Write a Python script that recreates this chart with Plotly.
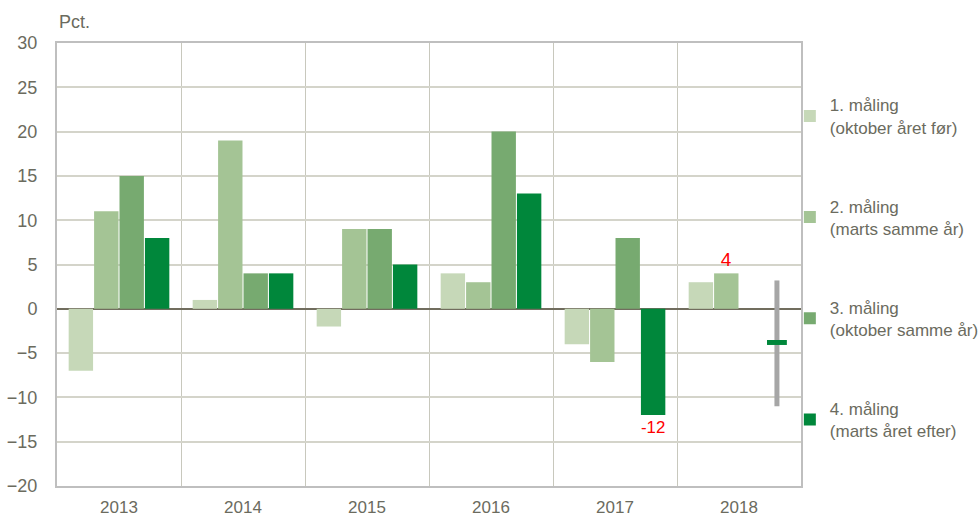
import plotly.graph_objects as go

years = ["2013", "2014", "2015", "2016", "2017", "2018"]
names = ["1. måling<br>(oktober året før)", "2. måling<br>(marts samme år)",
         "3. måling<br>(oktober samme år)", "4. måling<br>(marts året efter)"]
m1 = [-7, 1, -2, 4, -4, 3]
m2 = [11, 19, 9, 3, -6, 4]
m3 = [15, 4, 9, 20, 8, None]
m4 = [8, 4, 5, 13, -12, None]
colors = ["#c6d8b8", "#a4c495", "#77aa70", "#00873b"]
label_m2 = ["", "", "", "", "", "4"]
label_m4 = ["", "", "", "", "-12", ""]
# 2018 projection for 4th measurement: interval and central estimate
proj_low, proj_high, proj_mid = -11, 3.2, -3.8

xs = list(range(len(years)))
fig = go.Figure()
series = [m1, m2, m3, m4]
texts = [None, label_m2, None, label_m4]
for i, (vals, nm, col) in enumerate(zip(series, names, colors)):
    fig.add_trace(go.Bar(
        x=xs, y=vals, name=nm, marker=dict(color=col, line=dict(width=0)),
        legendgroup=str(i),
        text=texts[i], textposition="outside" if texts[i] else None,
        textfont=dict(color="#ff0000", size=19, family="Liberation Sans"),
        cliponaxis=False,
    ))

slot_off = 0.306
px = 5 + slot_off
fig.add_trace(go.Scatter(x=[px, px], y=[proj_low, proj_high], mode="lines",
                         line=dict(color="#a6a6a6", width=5), showlegend=False,
                         hoverinfo="skip"))
fig.add_trace(go.Scatter(x=[px - 0.08, px + 0.08], y=[proj_mid, proj_mid], mode="lines",
                         line=dict(color="#00873b", width=5), showlegend=False,
                         hoverinfo="skip"))

tickc = "#6b6b5e"
fig.update_layout(
    width=979, height=520,
    margin=dict(l=57, r=178, t=43, b=34, autoexpand=False),
    plot_bgcolor="white", paper_bgcolor="white",
    barmode="group", bargap=0.18, bargroupgap=0.04,
    font=dict(family="Liberation Sans", color=tickc, size=17),
    showlegend=True,
    legend=dict(x=0.985, y=0.90, xanchor="left", yanchor="top",
                font=dict(size=17, color=tickc), tracegroupgap=54,
                itemwidth=30, bgcolor="rgba(0,0,0,0)"),
    xaxis=dict(range=[-0.5, 5.5], tickmode="array", tickvals=xs, ticktext=years,
               showgrid=False, zeroline=False, showline=True, linecolor="#bfbfbf",
               linewidth=2, mirror=True, ticks="", ticklabelstandoff=5,
               tickfont=dict(size=17, color=tickc),
               minor=dict(tickmode="array", tickvals=[0.5, 1.5, 2.5, 3.5, 4.5],
                          showgrid=True, gridcolor="#c8c8bd", gridwidth=1)),
    yaxis=dict(range=[-20, 30], dtick=5, tick0=0, showgrid=True, gridcolor="#d4d4ca",
               gridwidth=1.5, zeroline=True, zerolinecolor="#716d5e", zerolinewidth=2,
               showline=True, linecolor="#bfbfbf", linewidth=2, mirror=True,
               tickfont=dict(size=18, color=tickc), ticks="", ticklabelstandoff=14),
    annotations=[dict(text="Pct.", xref="paper", yref="paper", x=0.0, y=1.0,
                      xanchor="left", yanchor="bottom", showarrow=False,
                      font=dict(size=18, color=tickc), xshift=0, yshift=9)],
)
fig.write_html("out.html")
